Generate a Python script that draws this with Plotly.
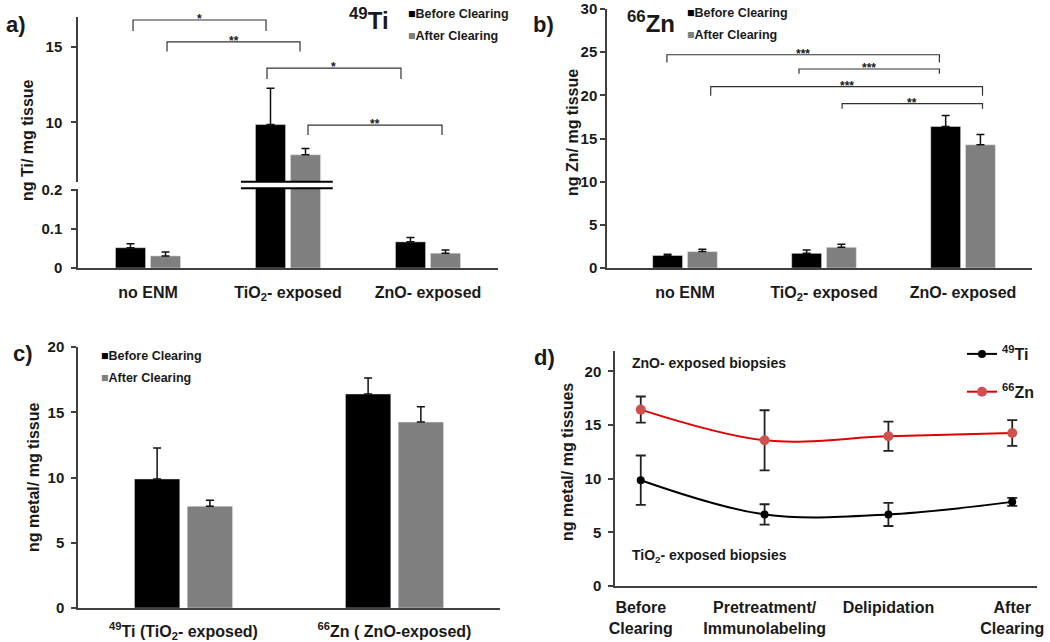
import plotly.graph_objects as go

# ---------------- data ----------------
# Panel a: 49Ti (ng Ti / mg tissue)
cats_ab = ["no ENM", "TiO<sub>2</sub>- exposed", "ZnO- exposed"]
ti_before = [0.052, 9.85, 0.067]
ti_before_err = [0.010, 2.40, 0.011]
ti_after = [0.031, 7.85, 0.038]
ti_after_err = [0.010, 0.42, 0.008]

# Panel b: 66Zn (ng Zn / mg tissue)
zn_before = [1.45, 1.70, 16.40]
zn_before_err = [0.15, 0.38, 1.25]
zn_after = [1.90, 2.40, 14.27]
zn_after_err = [0.28, 0.35, 1.20]

# Panel c
cats_c = ["<sup>49</sup>Ti (TiO<sub>2</sub>- exposed)", "<sup>66</sup>Zn ( ZnO-exposed)"]
c_before = [9.89, 16.40]
c_before_err = [2.37, 1.22]
c_after = [7.80, 14.25]
c_after_err = [0.45, 1.18]

# Panel d
stages = ["Before<br>Clearing", "Pretreatment/<br>Immunolabeling", "Delipidation", "After<br>Clearing"]
d_ti = [9.86, 6.67, 6.67, 7.84]
d_ti_err = [2.30, 0.95, 1.08, 0.37]
d_zn = [16.44, 13.58, 13.95, 14.26]
d_zn_err = [1.22, 2.80, 1.36, 1.20]

# significance brackets: (left, right, top, drop, label)
sig_a = [(-0.107, 0.843, 16.77, 0.72, "*"),
         (0.136, 1.086, 15.32, 0.64, "**"),
         (0.850, 1.807, 13.58, 0.71, "*"),
         (1.143, 2.100, 9.82, 0.66, "**")]
sig_b = [(-0.13, 1.83, 24.70, 0.90, "***"),
         (0.82, 1.83, 23.05, 0.55, "***"),
         (0.185, 2.14, 21.00, 1.05, "***"),
         (1.13, 2.14, 19.03, 0.58, "**")]

# ---------------- style ----------------
W, H = 1050, 642
FONT = "Liberation Sans, Arial, sans-serif"
TXT = "#1a1a1a"
AX = "#404040"
BLACK = "#000000"
GRAY = "#7f7f7f"


def X(px):
    return px / W


def Y(py):
    return 1 - py / H


def err(arr):
    return dict(type="data", array=arr, arrayminus=[0] * len(arr), symmetric=False,
                color="#111111", thickness=1.5, width=4)


fig = go.Figure()
idx3 = list(range(len(cats_ab)))
idx2 = list(range(len(cats_c)))
idx4 = list(range(len(stages)))

# panel a: lower and upper segments
for ya in ["y", "y2"]:
    fig.add_trace(go.Bar(x=idx3, y=ti_before, error_y=err(ti_before_err), marker_color=BLACK,
                         xaxis="x", yaxis=ya, showlegend=False, name="Before Clearing"))
    fig.add_trace(go.Bar(x=idx3, y=ti_after, error_y=err(ti_after_err), marker_color=GRAY,
                         xaxis="x", yaxis=ya, showlegend=False, name="After Clearing"))

# panel b
fig.add_trace(go.Bar(x=idx3, y=zn_before, error_y=err(zn_before_err), marker_color=BLACK,
                     xaxis="x3", yaxis="y3", showlegend=False, name="Before Clearing"))
fig.add_trace(go.Bar(x=idx3, y=zn_after, error_y=err(zn_after_err), marker_color=GRAY,
                     xaxis="x3", yaxis="y3", showlegend=False, name="After Clearing"))

# panel c
fig.add_trace(go.Bar(x=idx2, y=c_before, error_y=err(c_before_err), marker_color=BLACK,
                     xaxis="x4", yaxis="y4", showlegend=False, name="Before Clearing"))
fig.add_trace(go.Bar(x=idx2, y=c_after, error_y=err(c_after_err), marker_color=GRAY,
                     xaxis="x4", yaxis="y4", showlegend=False, name="After Clearing"))

# panel d
fig.add_trace(go.Scatter(x=idx4, y=d_ti, mode="lines+markers", name="<sup>49</sup>Ti",
                         line=dict(color="#000000", width=2, shape="spline", smoothing=1.0),
                         marker=dict(color="#000000", size=8),
                         error_y=dict(type="data", array=d_ti_err, color="#222222", thickness=1.8, width=5),
                         xaxis="x5", yaxis="y5", legendgroup="ti"))
fig.add_trace(go.Scatter(x=idx4, y=d_zn, mode="lines+markers", name="<sup>66</sup>Zn",
                         line=dict(color="#e00000", width=2, shape="spline", smoothing=1.0),
                         marker=dict(color="#d05050", size=10),
                         error_y=dict(type="data", array=d_zn_err, color="#222222", thickness=1.8, width=5),
                         xaxis="x5", yaxis="y5", legendgroup="zn"))

yax_common = dict(showline=True, linecolor=AX, linewidth=1.5, ticks="outside", ticklen=5,
                  tickwidth=1.5, tickcolor=AX, showgrid=False, zeroline=False, automargin=False,
                  tickfont=dict(size=15, family=FONT, color=TXT, weight="bold"))
xax_common = dict(showline=True, linecolor=AX, linewidth=1.5, ticks="", showgrid=False,
                  zeroline=False, automargin=False,
                  tickfont=dict(size=16, family=FONT, color=TXT, weight="bold"))

fig.update_layout(
    width=W, height=H, margin=dict(l=0, r=0, t=0, b=0, autoexpand=False),
    paper_bgcolor="white", plot_bgcolor="white",
    font=dict(family=FONT, color=TXT, weight="bold"),
    barmode="group", bargap=0.5, bargroupgap=0.14,
    # panel a
    xaxis=dict(xax_common, domain=[X(78), X(498)], anchor="y", range=[-0.5, 2.5],
               tickvals=idx3, ticktext=cats_ab, ticklabelstandoff=9),
    yaxis=dict(yax_common, domain=[Y(268), Y(189)], anchor="x", range=[0, 0.2026],
               tickvals=[0, 0.1, 0.2], ticktext=["0", "0.1", "0.2"], ticklabelstandoff=6),
    yaxis2=dict(yax_common, domain=[Y(182), Y(17)], anchor="x", range=[6.05, 16.97],
                tickvals=[10, 15], ticklabelstandoff=6),
    # panel b
    xaxis3=dict(xax_common, domain=[X(607), X(1032)], anchor="y3", range=[-0.561, 2.496],
                tickvals=idx3, ticktext=cats_ab, ticklabelstandoff=9),
    yaxis3=dict(yax_common, domain=[Y(268), Y(9)], anchor="x3", range=[0, 30],
                dtick=5, ticklabelstandoff=0),
    # panel c
    xaxis4=dict(xax_common, domain=[X(78), X(500)], anchor="y4", range=[-0.5, 1.5],
                tickvals=idx2, ticktext=cats_c, ticklabelstandoff=8),
    yaxis4=dict(yax_common, domain=[Y(608), Y(347)], anchor="x4", range=[0, 20],
                dtick=5, ticklabelstandoff=4),
    # panel d
    xaxis5=dict(xax_common, domain=[X(615), X(1037)], anchor="y5", range=[-0.208, 3.2],
                tickvals=idx4, ticktext=stages, ticklabelstandoff=6,
                tickfont=dict(size=16, family=FONT, color=TXT, weight="bold")),
    yaxis5=dict(yax_common, domain=[Y(586), Y(351)], anchor="x5", range=[0, 21.9],
                dtick=5, ticklabelstandoff=4),
    showlegend=True,
    legend=dict(x=X(962), y=Y(337), xanchor="left", yanchor="top", bgcolor="rgba(0,0,0,0)",
                font=dict(size=16, family=FONT, color=TXT, weight="bold"),
                tracegroupgap=14, itemwidth=30),
)

shapes = []
annos = []


def bracket(xref, yref, x0, x1, top, drop, label, size):
    shapes.append(dict(type="path", xref=xref, yref=yref,
                       path=f"M {x0},{top - drop} L {x0},{top} L {x1},{top} L {x1},{top - drop}",
                       line=dict(color="#333333", width=1.2)))
    annos.append(dict(x=(x0 + x1) / 2, y=top, xref=xref, yref=yref, text=label, showarrow=False,
                      xanchor="center", yanchor="middle", yshift=1,
                      font=dict(size=size, family=FONT, color=TXT, weight="bold")))


for b in sig_a:
    bracket("x", "y2", *b, 12)
for b in sig_b:
    bracket("x3", "y3", *b, 12)

# axis break marks (panel a)
for py in (181.7, 188.3):
    shapes.append(dict(type="line", xref="x", yref="paper", x0=0.664, x1=1.32, y0=Y(py), y1=Y(py),
                       line=dict(color="#000000", width=2)))


def text(px, py, s, size, xanchor="left", angle=0):
    annos.append(dict(x=X(px), y=Y(py), xref="paper", yref="paper", text=s, showarrow=False,
                      xanchor=xanchor, yanchor="middle", textangle=angle,
                      font=dict(size=size, family=FONT, color=TXT, weight="bold")))


# panel labels
text(4, 25, "a)", 22)
text(531, 24, "b)", 22)
text(11, 353, "c)", 22)
text(532, 357, "d)", 22)

# element titles
text(347, 19, "<sup>49</sup>Ti", 24)
text(625, 22, "<sup>66</sup>Zn", 24)

# y-axis titles
text(27, 140, "ng Ti/ mg tissue", 16, "center", -90)
text(573, 133, "ng Zn/ mg tissue", 16, "center", -90)
text(33, 478, "ng metal/ mg tissue", 16, "center", -90)
text(567, 462, "ng metal/ mg tissues", 16, "center", -90)

# bar legends
sq_b = '<span style="color:#000000">■</span>'
sq_g = '<span style="color:#7f7f7f">■</span>'
for (lx, ly) in [(406, 14), (685, 13), (99, 356)]:
    text(lx, ly, sq_b + "Before Clearing", 12.5)
    text(lx, ly + 22, sq_g + "After Clearing", 12.5)

# panel d notes
text(630, 363, "ZnO- exposed biopsies", 14)
text(630, 556, "TiO<sub>2</sub>- exposed biopsies", 14)

fig.update_layout(shapes=shapes, annotations=annos)
fig.write_html("out.html", config={"displayModeBar": False},
               post_script="document.body.style.margin='0';document.body.style.overflow='hidden';")
